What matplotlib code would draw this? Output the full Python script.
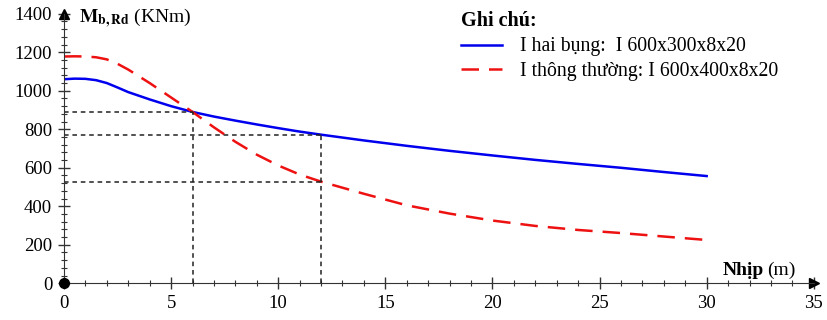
import numpy as np
import matplotlib.pyplot as plt
from matplotlib.ticker import MultipleLocator

plt.rcParams['font.family'] = ['Liberation Serif', 'DejaVu Serif']

# du lieu doc tu hinh
nhip = [0, 0.5, 1, 1.5, 2, 2.5, 3, 4, 5, 6, 7, 8, 9, 10, 11, 12, 14, 16, 18, 20, 22, 24, 26, 28, 30]
m_hai_bung = [1060, 1063, 1062, 1055, 1040, 1017, 993, 955, 920, 890, 866, 845, 825, 806, 788, 772,
              742, 714, 688, 664, 641, 620, 600, 578, 557]
m_thong_thuong = [1178, 1179, 1178, 1174, 1163, 1140, 1110, 1040, 965, 890, 810, 735, 668, 612,
                  565, 528, 465, 405, 362, 326, 298, 277, 261, 243, 225]

# duong gióng
L1, L2 = 6, 12
M1, M2, M3 = 890, 772, 528

fig = plt.figure(figsize=(8.27, 3.2), dpi=100)
ax = fig.add_axes([0.0774, 0.1147, 0.9066, 0.8423])

ax.plot(nhip, m_hai_bung, color='#0000ee', lw=1.8,
        label='I hai bụng:  I 600x300x8x20')
ax.plot(nhip, m_thong_thuong, color='#ee1111', lw=1.8, dashes=(7, 4),
        label='I thông thường: I 600x400x8x20')

kw = dict(color='#222222', lw=1.1, dashes=(3, 2.5))
ax.plot([0, L1], [M1, M1], **kw)
ax.plot([0, L2], [M2, M2], **kw)
ax.plot([0, L2], [M3, M3], **kw)
ax.plot([L1, L1], [0, M1], **kw)
ax.plot([L2, L2], [0, M2], **kw)

ax.set_xlim(0, 35)
ax.set_ylim(0, 1400)
ax.spines['top'].set_visible(False)
ax.spines['right'].set_visible(False)
ax.spines['left'].set_color('#333333')
ax.spines['bottom'].set_color('#333333')
ax.xaxis.set_major_locator(MultipleLocator(5))
ax.xaxis.set_minor_locator(MultipleLocator(1))
ax.yaxis.set_major_locator(MultipleLocator(200))
ax.yaxis.set_minor_locator(MultipleLocator(40))
ax.tick_params(which='major', direction='inout', length=9, width=1, color='#333333',
               labelsize=13.5, pad=4)
ax.tick_params(which='minor', direction='inout', length=5, width=0.8, color='#333333')

# mui ten + goc toa do
ax.plot(1, 0, '>', color='black', ms=7, transform=ax.transAxes, clip_on=False)
ax.plot(0, 1, '^', color='black', ms=7, transform=ax.transAxes, clip_on=False)
ax.plot(0, 0, 'o', color='black', ms=7, clip_on=False, zorder=5)

ax.text(0.7, 1375, r'$\mathbf{M_{b,Rd}}$ (KNm)', fontsize=14, va='center', ha='left',
        math_fontfamily='stix')
ax.text(32.65, 20, 'Nhịp', fontsize=14, fontweight='bold', ha='right', va='bottom')
ax.text(32.8, 20, '(m)', fontsize=14, ha='left', va='bottom')

leg = ax.legend(loc='upper left', bbox_to_anchor=(0.516, 1.045), frameon=False,
                title='Ghi chú:', fontsize=14.2, handlelength=2.1, handletextpad=0.9,
                borderpad=0, labelspacing=0.3)
leg.get_title().set_fontweight('bold')
leg.get_title().set_fontsize(14.5)
leg._legend_box.align = 'left'

fig.savefig('out.png', dpi=100)
